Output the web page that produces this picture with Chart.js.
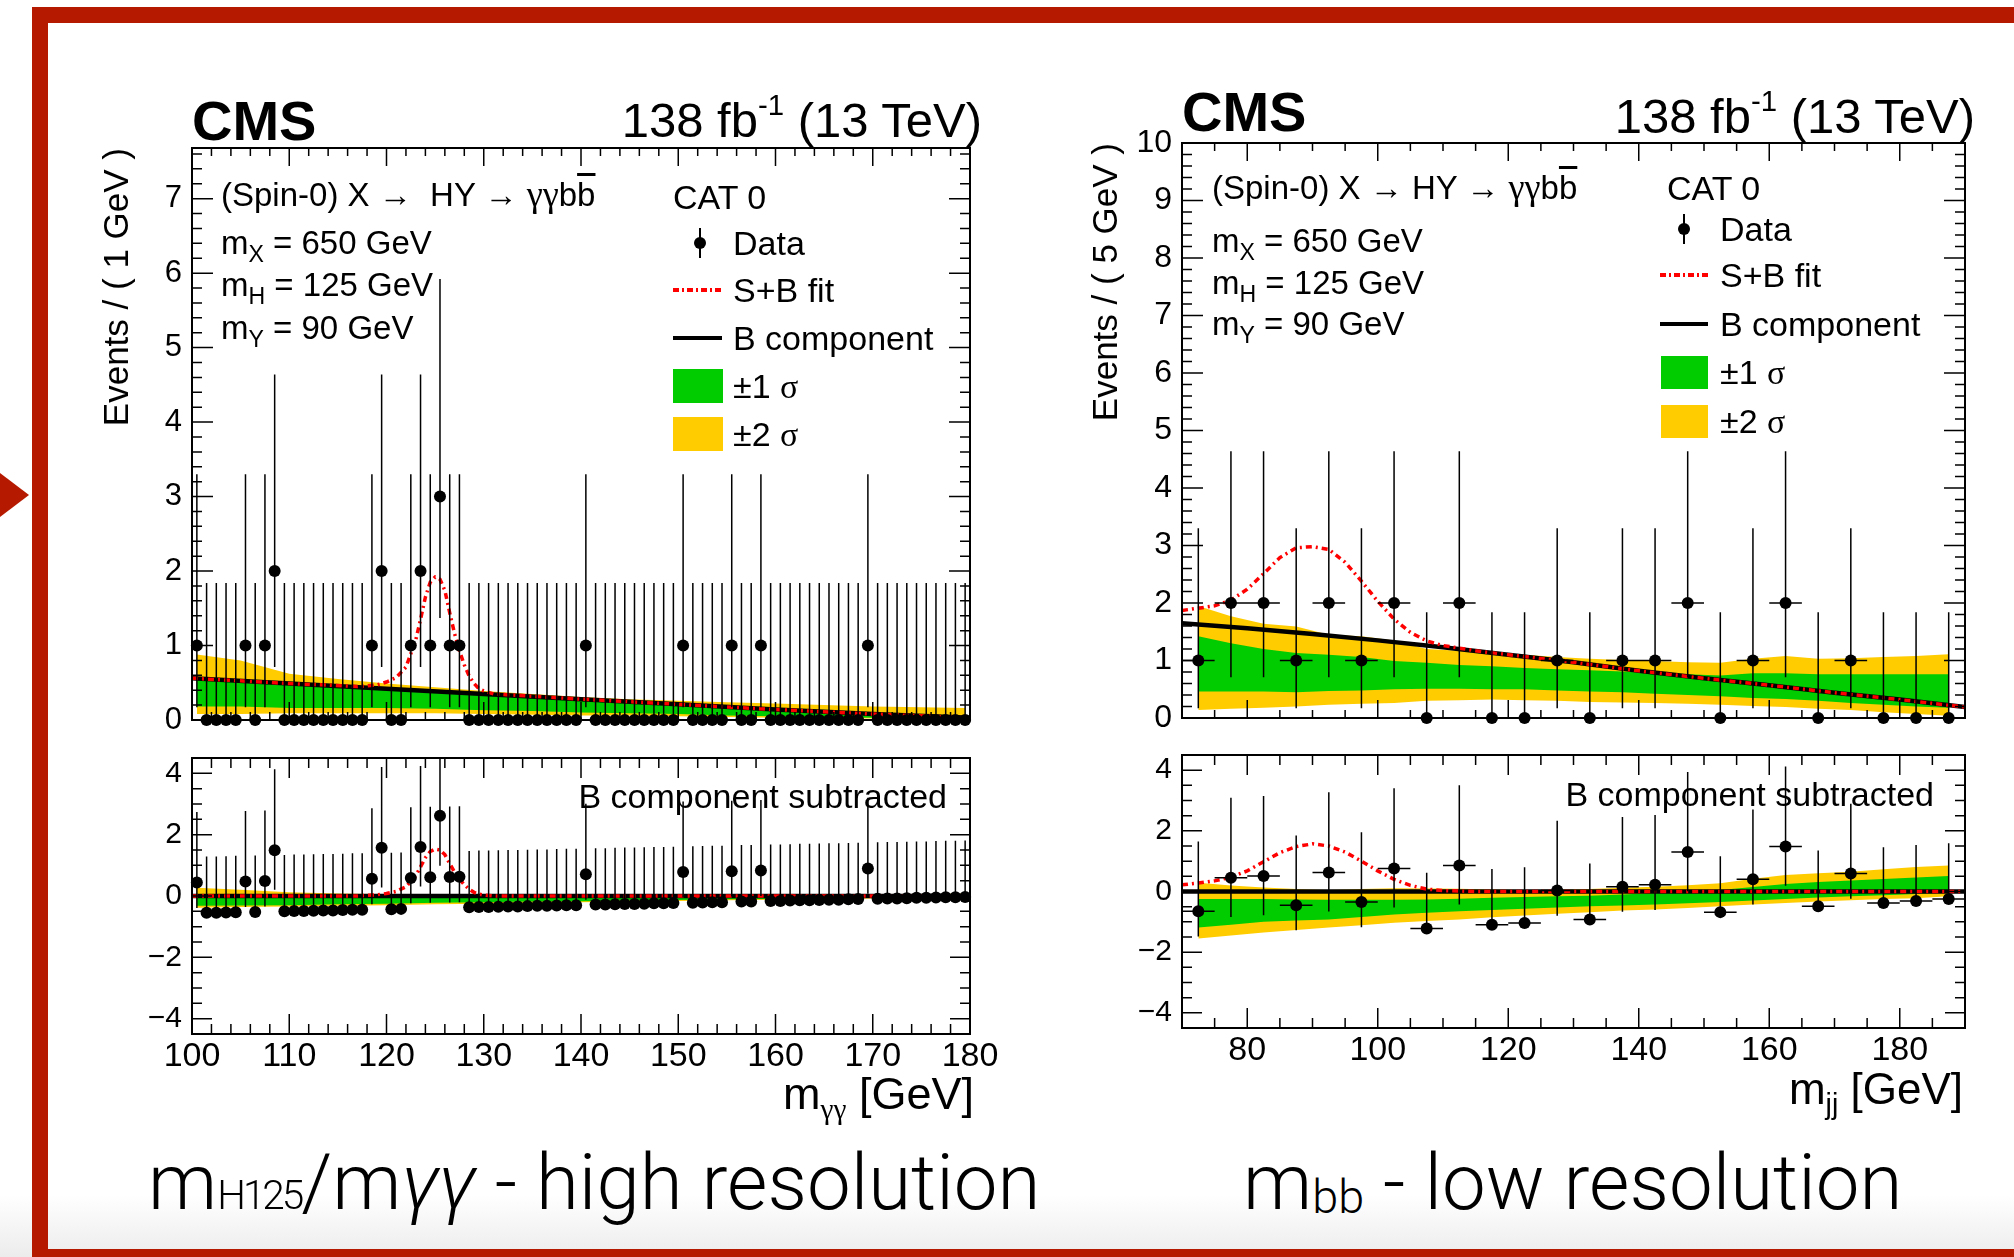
<!DOCTYPE html>
<html lang="en">
<head>
  <meta charset="UTF-8">
  <title>X → HY → γγbb fit - CAT 0</title>
  <script src="https://cdn.jsdelivr.net/npm/chart.js"></script>
  <style>
    html, body { margin: 0; padding: 0; background: #fff; }
    #page { position: relative; width: 2014px; height: 1257px; overflow: hidden; background: #fff; }
    canvas { position: absolute; }
    .bar { position: absolute; background: #b51a00; }
    .t { position: absolute; white-space: nowrap; line-height: 1; color: #000;
         font-family: 'Liberation Sans', Arial, sans-serif; }
    .t sub, .t sup { line-height: 0; }
    .g { font-family: 'Liberation Serif', 'DejaVu Serif', serif; }
    .ob { text-decoration: overline; }
    .sym { position: absolute; }
    .sub { position: absolute; white-space: nowrap; line-height: 1; color: #000;
           font-family: Roboto, 'Open Sans', sans-serif; font-weight: 300; font-size: 78px; }
  </style>
</head>
<body>
<div id="page">
  <!-- slide frame -->
  <div style="position:absolute;left:0;top:1195px;width:2014px;height:62px;background:linear-gradient(#fff,#ececec)"></div>
  <div class="bar" style="left:32px;top:7px;width:1982px;height:16px"></div>
  <div class="bar" style="left:32px;top:7px;width:16px;height:1250px"></div>
  <div class="bar" style="left:32px;top:1249px;width:1982px;height:8px"></div>
  <div style="position:absolute;left:0;top:473px;width:0;height:0;border-left:29px solid #b51a00;border-top:22px solid transparent;border-bottom:22px solid transparent"></div>

  <canvas id="cTL" width="920" height="660" style="left:97px;top:100px"></canvas>
  <canvas id="cBL" width="920" height="410" style="left:97px;top:730px"></canvas>
  <canvas id="cTR" width="919" height="663" style="left:1086px;top:95px"></canvas>
  <canvas id="cBR" width="919" height="410" style="left:1086px;top:727px"></canvas>

  <!-- left plot labels -->
  <div class="t" style="left:192px;top:93px;font-size:56px;font-weight:bold">CMS</div>
  <div class="t" style="right:1032px;top:96px;font-size:49px">138 fb<sup style="font-size:0.6em;vertical-align:0.75em">-1</sup> (13 TeV)</div>
  <div class="t" style="left:221px;top:176px;font-size:33px">(Spin-0) X <span class="g">&rarr;</span>&nbsp; HY <span class="g">&rarr;</span> <span class="g" style="font-size:1.1em">&gamma;&gamma;</span>b<span class="ob">b</span></div>
  <div class="t" style="left:221px;top:226px;font-size:33px">m<sub style="font-size:0.7em">X</sub> = 650 GeV</div>
  <div class="t" style="left:221px;top:268px;font-size:33px">m<sub style="font-size:0.7em">H</sub> = 125 GeV</div>
  <div class="t" style="left:221px;top:311px;font-size:33px">m<sub style="font-size:0.7em">Y</sub> = 90 GeV</div>
  <div class="t" style="left:673px;top:180px;font-size:34px">CAT 0</div>
  <div class="t" style="left:733px;top:226px;font-size:34px">Data</div>
  <div class="t" style="left:733px;top:273px;font-size:34px">S+B fit</div>
  <div class="t" style="left:733px;top:321px;font-size:34px">B component</div>
  <div class="t" style="left:733px;top:369px;font-size:34px">&plusmn;1 <span class="g">&sigma;</span></div>
  <div class="t" style="left:733px;top:417px;font-size:34px">&plusmn;2 <span class="g">&sigma;</span></div>
  <div class="sym" style="left:699px;top:228px;width:1.5px;height:30px;background:#000"></div>
  <div class="sym" style="left:694px;top:237px;width:12px;height:12px;border-radius:50%;background:#000"></div>
  <div class="sym" style="left:673px;top:288px;width:49px;height:4px;background:repeating-linear-gradient(to right,#f00 0 6px,transparent 6px 9px,#f00 9px 11px,transparent 11px 14px)"></div>
  <div class="sym" style="left:673px;top:336px;width:49px;height:4px;background:#000"></div>
  <div class="sym" style="left:673px;top:369px;width:50px;height:34px;background:#00cc00"></div>
  <div class="sym" style="left:673px;top:417px;width:50px;height:34px;background:#ffcc00"></div>
  <div class="t" style="right:1067px;top:779px;font-size:34px">B component subtracted</div>
  <div class="t" style="right:1040px;top:1071px;font-size:45px">m<sub class="g" style="font-size:0.65em">&gamma;&gamma;</sub> [GeV]</div>

  <!-- right plot labels -->
  <div class="t" style="left:1182px;top:84px;font-size:56px;font-weight:bold">CMS</div>
  <div class="t" style="right:39px;top:92px;font-size:49px">138 fb<sup style="font-size:0.6em;vertical-align:0.75em">-1</sup> (13 TeV)</div>
  <div class="t" style="left:1212px;top:169px;font-size:33px">(Spin-0) X <span class="g">&rarr;</span> HY <span class="g">&rarr;</span> <span class="g" style="font-size:1.1em">&gamma;&gamma;</span>b<span class="ob">b</span></div>
  <div class="t" style="left:1212px;top:224px;font-size:33px">m<sub style="font-size:0.7em">X</sub> = 650 GeV</div>
  <div class="t" style="left:1212px;top:266px;font-size:33px">m<sub style="font-size:0.7em">H</sub> = 125 GeV</div>
  <div class="t" style="left:1212px;top:307px;font-size:33px">m<sub style="font-size:0.7em">Y</sub> = 90 GeV</div>
  <div class="t" style="left:1667px;top:171px;font-size:34px">CAT 0</div>
  <div class="t" style="left:1720px;top:212px;font-size:34px">Data</div>
  <div class="t" style="left:1720px;top:258px;font-size:34px">S+B fit</div>
  <div class="t" style="left:1720px;top:307px;font-size:34px">B component</div>
  <div class="t" style="left:1720px;top:355px;font-size:34px">&plusmn;1 <span class="g">&sigma;</span></div>
  <div class="t" style="left:1720px;top:404px;font-size:34px">&plusmn;2 <span class="g">&sigma;</span></div>
  <div class="sym" style="left:1683px;top:214px;width:1.5px;height:30px;background:#000"></div>
  <div class="sym" style="left:1678px;top:223px;width:12px;height:12px;border-radius:50%;background:#000"></div>
  <div class="sym" style="left:1660px;top:273px;width:48px;height:4px;background:repeating-linear-gradient(to right,#f00 0 6px,transparent 6px 9px,#f00 9px 11px,transparent 11px 14px)"></div>
  <div class="sym" style="left:1660px;top:322px;width:48px;height:4px;background:#000"></div>
  <div class="sym" style="left:1661px;top:356px;width:47px;height:33px;background:#00cc00"></div>
  <div class="sym" style="left:1661px;top:405px;width:47px;height:33px;background:#ffcc00"></div>
  <div class="t" style="right:80px;top:777px;font-size:34px">B component subtracted</div>
  <div class="t" style="right:51px;top:1067px;font-size:44px">m<sub style="font-size:0.65em">jj</sub> [GeV]</div>

  <!-- slide captions -->
  <div class="sub" style="left:148px;top:1144px">m<span style="font-size:0.52em;letter-spacing:-3px">H125</span>/m<i>&gamma;&gamma;</i> - high resolution</div>
  <div class="sub" style="left:1243px;top:1144px">m<span style="font-size:0.6em;vertical-align:-0.08em">bb</span> - low resolution</div>
</div>

<script>
  // ---------- m_gg panel (1 GeV bins, 100-180) ----------
  const leftBins = Array.from({ length: 80 }, (_, i) => 100.5 + i); // bin centres
  const leftCounts = [1,0,0,0,0,1,0,1,2,0, 0,0,0,0,0,0,0,0,1,2,
                      0,0,1,2,1,3,1,1,0,0, 0,0,0,0,0,0,0,0,0,0,
                      1,0,0,0,0,0,0,0,0,0, 1,0,0,0,0,1,0,0,1,0,
                      0,0,0,0,0,0,0,0,0,1, 0,0,0,0,0,0,0,0,0,0];
  const leftResid = [0.44,-0.55,-0.55,-0.54,-0.53,0.47,-0.52,0.49,1.49,-0.50,
                     -0.49,-0.49,-0.48,-0.47,-0.47,-0.46,-0.45,-0.45,0.56,1.57,
                     -0.43,-0.42,0.59,1.60,0.61,2.62,0.62,0.63,-0.37,-0.36,
                     -0.36,-0.35,-0.34,-0.34,-0.33,-0.32,-0.32,-0.31,-0.30,-0.30,
                     0.71,-0.28,-0.28,-0.27,-0.26,-0.26,-0.25,-0.24,-0.24,-0.23,
                     0.78,-0.22,-0.21,-0.20,-0.20,0.81,-0.18,-0.18,0.83,-0.16,
                     -0.16,-0.15,-0.14,-0.14,-0.13,-0.12,-0.12,-0.11,-0.10,0.90,
                     -0.09,-0.08,-0.08,-0.07,-0.06,-0.06,-0.05,-0.04,-0.04,-0.03];
  const leftBkgX = [100,110,120,130,140,150,160,170,180];
  const leftBkg  = [0.56,0.49,0.42,0.35,0.28,0.21,0.14,0.08,0.03];
  const leftSBX = [100,110,117,118,119,120,121,122,123,123.5,124,124.5,125,125.5,126,126.5,127,127.5,128,128.5,129,129.5,130,131,140,150,160,170,180];
  const leftSB  = [0.56,0.49,0.45,0.46,0.47,0.51,0.57,0.71,1.07,1.35,1.65,1.85,1.92,1.89,1.74,1.44,1.16,0.93,0.74,0.59,0.49,0.42,0.39,0.35,0.28,0.21,0.14,0.08,0.03];
  const leftSig = [0,0,0,0.02,0.04,0.08,0.15,0.30,0.66,0.95,1.25,1.45,1.53,1.50,1.35,1.06,0.78,0.55,0.37,0.22,0.12,0.06,0.03,0,0,0,0,0,0];
  const leftBandX   = [100.5,105,110,115,120,125,130,135,140,145,150,155,160,165,170,175,179.5];
  const leftBandLo2 = [0.08,0.08,0.09,0.09,0.09,0.09,0.08,0.07,0.06,0.06,0.05,0.04,0.03,0.02,0.02,0.01,0.00];
  const leftBandLo1 = [0.18,0.18,0.16,0.16,0.16,0.15,0.13,0.12,0.10,0.09,0.08,0.06,0.05,0.04,0.03,0.02,0.015];
  const leftBandHi1 = [0.54,0.52,0.47,0.44,0.41,0.37,0.34,0.30,0.26,0.22,0.19,0.16,0.14,0.12,0.10,0.07,0.05];
  const leftBandHi2 = [0.88,0.80,0.62,0.55,0.49,0.44,0.39,0.35,0.31,0.28,0.26,0.24,0.22,0.20,0.18,0.17,0.16];
  const leftSubLo2 = [-0.38,-0.36,-0.34,-0.32,-0.30,-0.27,-0.25,-0.22,-0.20,-0.18,-0.16,-0.14,-0.12,-0.10,-0.08,-0.05,-0.03];
  const leftSubLo1 = [-0.32,-0.31,-0.30,-0.27,-0.25,-0.22,-0.20,-0.18,-0.17,-0.15,-0.13,-0.11,-0.10,-0.08,-0.06,-0.04,-0.02];
  const leftSubHi1 = [0.00,0.00,0.00,0.00,0.00,-0.01,-0.01,-0.01,-0.01,-0.02,-0.02,-0.01,-0.01,0.00,0.00,0.01,0.03];
  const leftSubHi2 = [0.27,0.20,0.12,0.08,0.06,0.05,0.04,0.03,0.03,0.03,0.03,0.03,0.03,0.04,0.05,0.06,0.08];
  const leftXTicks = [100,110,120,130,140,150,160,170,180];
  const leftYTicks = [0,1,2,3,4,5,6,7];

  // ---------- m_jj panel (5 GeV bins, 70-190) ----------
  const rightBins = [72.5,77.5,82.5,87.5,92.5,97.5,102.5,107.5,112.5,117.5,122.5,127.5,
                     132.5,137.5,142.5,147.5,152.5,157.5,162.5,167.5,172.5,177.5,182.5,187.5];
  const rightCounts = [1,2,2,1,2,1,2,0,2,0,0,1,0,1,1,2,0,1,2,0,1,0,0,0];
  const rightResid = [-0.65,0.45,0.51,-0.45,0.63,-0.35,0.76,-1.22,0.86,-1.10,-1.04,0.03,
                      -0.92,0.16,0.22,1.30,-0.68,0.40,1.48,-0.49,0.59,-0.38,-0.31,-0.25];
  const rightBkgX = [70,80,90,100,110,120,130,140,150,160,170,180,190];
  const rightBkg  = [1.65,1.56,1.46,1.35,1.23,1.10,0.97,0.82,0.69,0.57,0.44,0.32,0.19];
  const rightSBX = [70,72.5,75,77.5,80,82.5,85,87.5,90,92.5,95,97.5,100,102.5,105,107.5,110,115,120,130,140,150,160,170,180,190];
  const rightSB  = [1.87,1.91,1.95,2.05,2.24,2.51,2.79,2.96,2.98,2.93,2.71,2.38,2.03,1.72,1.49,1.34,1.26,1.17,1.10,0.97,0.82,0.69,0.57,0.44,0.32,0.19];
  const rightSig = [0.22,0.28,0.35,0.47,0.68,0.98,1.28,1.48,1.57,1.50,1.30,1.00,0.68,0.40,0.20,0.08,0.03,0,0,0,0,0,0,0,0,0];
  const rightBandLo2 = [0.14,0.16,0.18,0.20,0.23,0.25,0.26,0.30,0.31,0.32,0.31,0.30,0.28,0.27,0.26,0.25,0.23,0.21,0.19,0.16,0.14,0.10,0.07,0.04];
  const rightBandLo1 = [0.46,0.46,0.46,0.45,0.47,0.48,0.50,0.51,0.51,0.50,0.50,0.48,0.46,0.45,0.42,0.40,0.38,0.35,0.33,0.30,0.26,0.23,0.20,0.18];
  const rightBandHi1 = [1.42,1.30,1.20,1.13,1.10,1.06,0.99,0.96,0.92,0.90,0.87,0.85,0.83,0.81,0.78,0.76,0.74,0.78,0.78,0.76,0.76,0.76,0.76,0.76];
  const rightBandHi2 = [1.95,1.77,1.64,1.59,1.45,1.42,1.35,1.20,1.17,1.13,1.10,1.06,1.03,1.01,0.99,0.97,0.96,1.03,1.08,1.03,1.04,1.06,1.08,1.11];
  const rightSubLo2 = [-1.55,-1.45,-1.35,-1.27,-1.19,-1.11,-1.03,-0.97,-0.92,-0.85,-0.79,-0.73,-0.68,-0.63,-0.59,-0.54,-0.49,-0.43,-0.38,-0.33,-0.29,-0.25,-0.22,-0.16];
  const rightSubLo1 = [-1.19,-1.10,-1.00,-0.96,-0.92,-0.84,-0.76,-0.70,-0.65,-0.61,-0.57,-0.53,-0.49,-0.46,-0.43,-0.39,-0.35,-0.30,-0.25,-0.20,-0.16,-0.12,-0.08,-0.03];
  const rightSubHi1 = [-0.25,-0.25,-0.25,-0.26,-0.27,-0.27,-0.27,-0.26,-0.24,-0.21,-0.18,-0.16,-0.14,-0.10,-0.05,0.00,0.05,0.15,0.25,0.31,0.36,0.41,0.46,0.51];
  const rightSubHi2 = [0.29,0.20,0.13,0.08,0.05,0.08,0.11,0.10,0.09,0.07,0.05,0.06,0.08,0.12,0.16,0.21,0.27,0.42,0.54,0.60,0.65,0.73,0.81,0.86];
  const rightXTicks = [80,100,120,140,160,180];
  const rightYTicks = [0,1,2,3,4,5,6,7,8,9,10];

  const lowerYTicks = [-4,-2,0,2,4];
  // Poisson (Garwood) interval half-widths, indexed by observed count
  const poissonDn = [0, 0.83, 1.29, 1.63];
  const poissonUp = [1.84, 2.30, 2.64, 2.92];

  const GREEN = '#00cc00', YELLOW = '#ffcc00', RED = '#ff0000';
  Chart.defaults.font.family = "'Liberation Sans', Arial, sans-serif";
  Chart.defaults.color = '#000';

  const pts = (xs, ys) => xs.map((x, i) => ({ x: x, y: ys[i] }));

  function vErr(xs, ys, counts) {
    const out = [];
    xs.forEach((x, i) => {
      out.push({ x: x, y: ys[i] - poissonDn[counts[i]] }, { x: x, y: ys[i] + poissonUp[counts[i]] }, { x: x, y: null });
    });
    return out;
  }
  function hErr(xs, ys, half) {
    const out = [];
    xs.forEach((x, i) => {
      out.push({ x: x - half, y: ys[i] }, { x: x + half, y: ys[i] }, { x: x + half, y: null });
    });
    return out;
  }

  // ROOT style frame with inward ticks on all four sides
  const rootFrame = {
    id: 'rootFrame',
    afterDatasetsDraw(chart, args, o) {
      const { ctx, chartArea: a, scales: { x, y } } = chart;
      ctx.save();
      ctx.strokeStyle = '#000';
      ctx.lineWidth = 1.5;
      ctx.beginPath();
      const loop = (sc, minor, major, cb) => {
        const n0 = Math.ceil(sc.min / minor - 1e-6), n1 = Math.floor(sc.max / minor + 1e-6);
        for (let n = n0; n <= n1; n++) {
          const v = n * minor;
          const isMajor = Math.abs(v / major - Math.round(v / major)) < 1e-6;
          cb(sc.getPixelForValue(v), isMajor);
        }
      };
      loop(x, o.xMinor, o.xMajor, (px, m) => {
        const len = m ? o.xLen[0] : o.xLen[1];
        ctx.moveTo(px, a.bottom); ctx.lineTo(px, a.bottom - len);
        ctx.moveTo(px, a.top); ctx.lineTo(px, a.top + len);
      });
      loop(y, o.yMinor, o.yMajor, (py, m) => {
        const len = m ? o.yLen[0] : o.yLen[1];
        ctx.moveTo(a.left, py); ctx.lineTo(a.left + len, py);
        ctx.moveTo(a.right, py); ctx.lineTo(a.right - len, py);
      });
      ctx.stroke();
      ctx.lineWidth = 2;
      ctx.strokeRect(a.left, a.top, a.right - a.left, a.bottom - a.top);
      ctx.restore();
    }
  };

  function makeChart(id, o) {
    const clear = 'rgba(0,0,0,0)';
    const datasets = [
      { type: 'scatter', data: pts(o.bins, o.vals), pointRadius: 6, pointBackgroundColor: '#000',
        pointBorderWidth: 0, clip: false, order: 0 },
      { type: 'line', data: vErr(o.bins, o.vals, o.counts), borderColor: '#000', borderWidth: 1.5,
        pointRadius: 0, spanGaps: false, order: 1 },
      { type: 'line', data: o.half ? hErr(o.bins, o.vals, o.half) : [], borderColor: '#000', borderWidth: 1.5,
        pointRadius: 0, spanGaps: false, order: 1 },
      { type: 'line', data: pts(o.sbX, o.sb), borderColor: RED, borderWidth: 3.5, borderDash: [6, 4, 2, 4],
        pointRadius: 0, order: 2 },
      { type: 'line', data: pts(o.bX, o.b), borderColor: '#000', borderWidth: 4.5, pointRadius: 0, order: 3 },
      { type: 'line', data: pts(o.bandX, o.hi1), borderColor: clear, borderWidth: 0, pointRadius: 0,
        fill: 6, backgroundColor: GREEN, order: 4 },
      { type: 'line', data: pts(o.bandX, o.lo1), borderColor: clear, borderWidth: 0, pointRadius: 0,
        fill: false, order: 4 },
      { type: 'line', data: pts(o.bandX, o.hi2), borderColor: clear, borderWidth: 0, pointRadius: 0,
        fill: 8, backgroundColor: YELLOW, order: 5 },
      { type: 'line', data: pts(o.bandX, o.lo2), borderColor: clear, borderWidth: 0, pointRadius: 0,
        fill: false, order: 5 }
    ];
    const minus = v => String(v).replace('-', '\u2212');
    return new Chart(document.getElementById(id), {
      type: 'scatter',
      data: { datasets: datasets },
      plugins: [rootFrame],
      options: {
        responsive: false,
        animation: false,
        devicePixelRatio: 1,
        events: [],
        layout: { padding: o.pad, autoPadding: false },
        plugins: {
          legend: { display: false },
          tooltip: { enabled: false },
          rootFrame: o.frame
        },
        scales: {
          x: {
            type: 'linear', min: o.xMin, max: o.xMax, display: !!o.xTicks,
            afterBuildTicks: s => { s.ticks = (o.xTicks || []).map(v => ({ value: v })); },
            afterFit: s => { if (o.xHeight) s.height = o.xHeight; },
            grid: { display: false, drawTicks: false },
            border: { display: false },
            ticks: { font: { size: 34 }, color: '#000', padding: 2, maxRotation: 0, autoSkip: false, callback: minus }
          },
          y: {
            type: 'linear', min: o.yMin, max: o.yMax,
            afterBuildTicks: s => { s.ticks = o.yTicks.map(v => ({ value: v })); },
            afterFit: s => { s.width = o.yWidth; },
            grid: { display: false, drawTicks: false },
            border: { display: false },
            ticks: { font: { size: o.yFont }, color: '#000', padding: 10, autoSkip: false, callback: minus },
            title: o.yTitle ? { display: true, text: o.yTitle, align: 'end', font: { size: 35 }, color: '#000', padding: 0 }
                            : { display: false }
          }
        }
      }
    });
  }

  window.onload = () => {
    // top left: events per 1 GeV
    makeChart('cTL', {
      bins: leftBins, vals: leftCounts, counts: leftCounts,
      sbX: leftSBX, sb: leftSB, bX: leftBkgX, b: leftBkg,
      bandX: leftBandX, lo2: leftBandLo2, lo1: leftBandLo1, hi1: leftBandHi1, hi2: leftBandHi2,
      xMin: 100, xMax: 180, yMin: 0, yMax: 7.68, yTicks: leftYTicks, yFont: 31,
      yWidth: 95, pad: { left: 0, top: 48, right: 47, bottom: 40 },
      yTitle: 'Events / ( 1 GeV )',
      frame: { xMajor: 10, xMinor: 2, yMajor: 1, yMinor: 0.2, xLen: [18, 8], yLen: [21, 10] }
    });
    // bottom left: background subtracted
    makeChart('cBL', {
      bins: leftBins, vals: leftResid, counts: leftCounts,
      sbX: leftSBX, sb: leftSig, bX: [100, 180], b: [0, 0],
      bandX: leftBandX, lo2: leftSubLo2, lo1: leftSubLo1, hi1: leftSubHi1, hi2: leftSubHi2,
      xMin: 100, xMax: 180, yMin: -4.5, yMax: 4.5, yTicks: lowerYTicks, yFont: 30, xTicks: leftXTicks,
      yWidth: 95, xHeight: 106, pad: { left: 0, top: 18, right: 47, bottom: 0 },
      frame: { xMajor: 10, xMinor: 2, yMajor: 2, yMinor: 0.5, xLen: [20, 10], yLen: [20, 10] }
    });
    // top right: events per 5 GeV
    makeChart('cTR', {
      bins: rightBins, vals: rightCounts, counts: rightCounts, half: 2.5,
      sbX: rightSBX, sb: rightSB, bX: rightBkgX, b: rightBkg,
      bandX: rightBins, lo2: rightBandLo2, lo1: rightBandLo1, hi1: rightBandHi1, hi2: rightBandHi2,
      xMin: 70, xMax: 190, yMin: 0, yMax: 10, yTicks: rightYTicks, yFont: 32,
      yWidth: 96, pad: { left: 0, top: 48, right: 40, bottom: 40 },
      yTitle: 'Events / ( 5 GeV )',
      frame: { xMajor: 20, xMinor: 5, yMajor: 1, yMinor: 0.2, xLen: [18, 8], yLen: [21, 10] }
    });
    // bottom right: background subtracted
    makeChart('cBR', {
      bins: rightBins, vals: rightResid, counts: rightCounts, half: 2.5,
      sbX: rightSBX, sb: rightSig, bX: [70, 190], b: [0, 0],
      bandX: rightBins, lo2: rightSubLo2, lo1: rightSubLo1, hi1: rightSubHi1, hi2: rightSubHi2,
      xMin: 70, xMax: 190, yMin: -4.5, yMax: 4.5, yTicks: lowerYTicks, yFont: 30, xTicks: rightXTicks,
      yWidth: 96, xHeight: 109, pad: { left: 0, top: 18, right: 40, bottom: 0 },
      frame: { xMajor: 20, xMinor: 5, yMajor: 2, yMinor: 0.5, xLen: [20, 10], yLen: [20, 10] }
    });
  };
</script>
</body>
</html>
